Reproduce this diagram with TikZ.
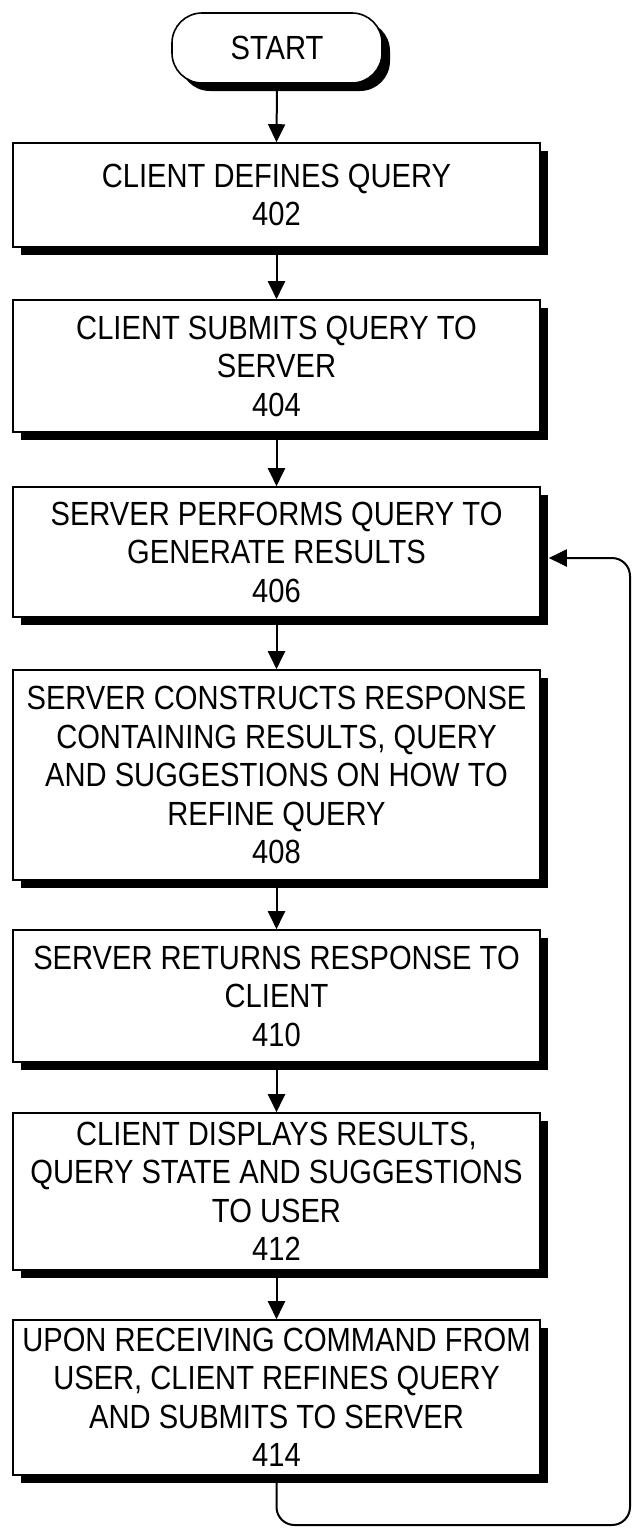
\documentclass[tikz,border=0pt]{standalone}
\usepackage{fontspec}
\setmainfont{Liberation Sans}[FakeStretch=0.87]
\usetikzlibrary{arrows.meta,shadows,calc}
\begin{document}
\begin{tikzpicture}[x=1pt,y=-1pt,
  shd/.style={general shadow={fill=black, shadow xshift=8pt, shadow yshift=-8pt}},
  box/.style={draw, line width=1.6pt, fill=white, minimum width=527pt, align=center,
    inner sep=0pt, font=\fontsize{33.5}{38.5}\selectfont, shd},
  term/.style={draw, line width=1.6pt, fill=white, rounded corners=30pt, minimum width=210pt,
    minimum height=70pt, inner sep=0pt, font=\fontsize{33.5}{38.5}\selectfont, shd},
  arr/.style={line width=2pt, -{Triangle[length=18pt,width=17pt]}}]
\useasboundingbox (0,0) rectangle (637,1535);
\node[term] (start) at (277,48) {START};
\node[box, minimum height=104pt] (n402) at (276.5,195) {CLIENT DEFINES QUERY\\402};
\node[box, minimum height=132pt] (n404) at (276.5,366) {CLIENT SUBMITS QUERY TO\\SERVER\\404};
\node[box, minimum height=130pt] (n406) at (276.5,552) {SERVER PERFORMS QUERY TO\\GENERATE RESULTS\\406};
\node[box, minimum height=210pt] (n408) at (276.5,775) {SERVER CONSTRUCTS RESPONSE\\CONTAINING RESULTS, QUERY\\AND SUGGESTIONS ON HOW TO\\REFINE QUERY\\408};
\node[box, minimum height=132pt] (n410) at (276.5,996) {SERVER RETURNS RESPONSE TO\\CLIENT\\410};
\node[box, minimum height=157pt] (n412) at (276.5,1191.5) {CLIENT DISPLAYS RESULTS,\\QUERY STATE AND SUGGESTIONS\\TO USER\\412};
\node[box, minimum height=155pt] (n414) at (276.5,1397.5) {UPON RECEIVING COMMAND FROM\\USER, CLIENT REFINES QUERY\\AND SUBMITS TO SERVER\\414};
\coordinate (lc) at (630,1525);
\draw[arr] (start.south) -- (n402.north);
\draw[arr] (n402.south) -- (n404.north);
\draw[arr] (n404.south) -- (n406.north);
\draw[arr] (n406.south) -- (n408.north);
\draw[arr] (n408.south) -- (n410.north);
\draw[arr] (n410.south) -- (n412.north);
\draw[arr] (n412.south) -- (n414.north);
\draw[arr, rounded corners=18pt] (n414.south) |- (lc) |- ([xshift=8pt,yshift=-6pt]n406.east);
\end{tikzpicture}
\end{document}
